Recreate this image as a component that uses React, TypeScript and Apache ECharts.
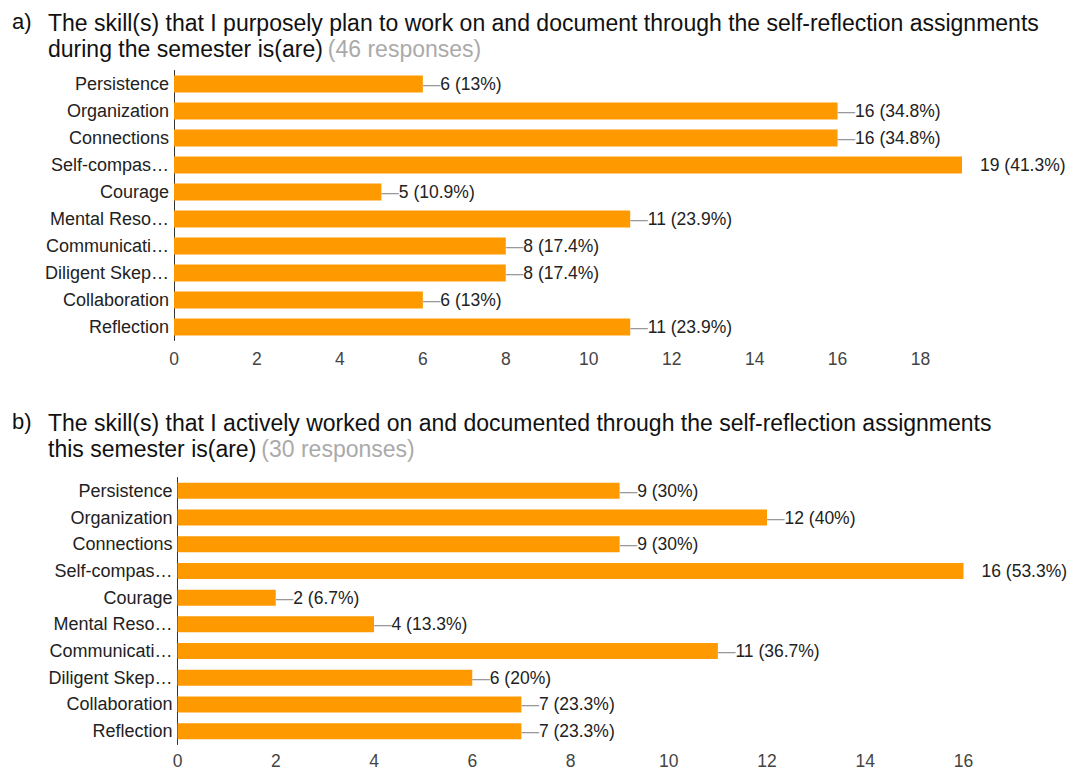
import React, { useEffect, useRef } from "react";
import * as echarts from "echarts";

const categories = [
  "Persistence",
  "Organization",
  "Connections",
  "Self-compas…",
  "Courage",
  "Mental Reso…",
  "Communicati…",
  "Diligent Skep…",
  "Collaboration",
  "Reflection",
];

const planValues = [6, 16, 16, 19, 5, 11, 8, 8, 6, 11];
const planResponses = 46;
const workedValues = [9, 12, 9, 16, 2, 4, 11, 6, 7, 7];
const workedResponses = 30;

const titleA1 = "The skill(s) that I purposely plan to work on and document through the self-reflection assignments";
const titleA2 = "during the semester is(are)";
const titleB1 = "The skill(s) that I actively worked on and documented through the self-reflection assignments";
const titleB2 = "this semester is(are)";

const FONT = 'Arial, "Liberation Sans", sans-serif';
const ORANGE = "#FF9900";
const FS = 17.5;
const CFS = 18;

function pct(v: number, total: number): string {
  const p = (v / total) * 100;
  let s = p.toFixed(1);
  if (s.endsWith(".0")) s = s.slice(0, -2);
  return s;
}

function buildSeries(values: number[], total: number, idx: number, barWidth: number) {
  const max = Math.max(...values);
  return {
    type: "bar",
    xAxisIndex: idx,
    yAxisIndex: idx,
    barWidth: barWidth,
    itemStyle: { color: ORANGE },
    data: values.map((v) => ({
      value: v,
      label:
        v === max
          ? { distance: 18, formatter: "{t|" + v + " (" + pct(v, total) + "%)}" }
          : { distance: 0 },
    })),
    label: {
      show: true,
      position: "right",
      formatter: (p: any) => "{d|—}{t|" + p.value + " (" + pct(p.value, total) + "%)}",
      rich: {
        d: { color: "#999", fontSize: FS, fontFamily: FONT },
        t: { color: "#222", fontSize: FS, fontFamily: FONT },
      },
    },
  };
}

function xAxisFor(values: number[], idx: number, showMax: boolean, margin: number) {
  const max = Math.max(...values);
  return {
    type: "value",
    gridIndex: idx,
    min: 0,
    max: max,
    interval: 2,
    splitLine: { show: false },
    axisLine: { show: false },
    axisTick: { show: false },
    axisLabel: {
      color: "#444",
      fontSize: FS,
      fontFamily: FONT,
      margin: margin,
      showMaxLabel: showMax,
    },
  };
}

function yAxisFor(idx: number) {
  return {
    type: "category",
    gridIndex: idx,
    inverse: true,
    data: categories,
    axisLine: { show: true, lineStyle: { color: "#333", width: 1 } },
    axisTick: { show: false },
    axisLabel: { color: "#222", fontSize: CFS, fontFamily: FONT, margin: 5 },
  };
}

const TFS = 23;

function titleRich() {
  return {
    b: { color: "#111", fontSize: TFS, fontFamily: FONT, fontWeight: "normal", lineHeight: 26 },
    g: { color: "#aaa", fontSize: TFS, fontFamily: FONT, fontWeight: "normal", lineHeight: 26 },
  };
}

const labelStyle = { color: "#111", fontSize: 22, fontFamily: FONT, fontWeight: "normal", lineHeight: 26 };

export default function App() {
  const ref = useRef<HTMLDivElement>(null);
  useEffect(() => {
    if (!ref.current) return;
    const chart = echarts.init(ref.current, undefined, { renderer: "svg" });
    chart.setOption({
      animation: false,
      backgroundColor: "#fff",
      title: [
        { text: "a)", left: 12, top: 8, padding: 0, textStyle: labelStyle },
        {
          text: "{b|" + titleA1 + "}\n{b|" + titleA2 + "} {g|(" + planResponses + " responses)}",
          left: 48,
          top: 10,
          padding: 0,
          textStyle: { fontWeight: "normal", rich: titleRich() },
        },
        { text: "b)", left: 12, top: 408, padding: 0, textStyle: labelStyle },
        {
          text: "{b|" + titleB1 + "}\n{b|" + titleB2 + "} {g|(" + workedResponses + " responses)}",
          left: 48,
          top: 410,
          padding: 0,
          textStyle: { fontWeight: "normal", rich: titleRich() },
        },
      ],
      grid: [
        { left: 174, width: 788, top: 70.5, height: 270 },
        { left: 177.5, width: 786, top: 477.5, height: 267 },
      ],
      xAxis: [xAxisFor(planValues, 0, false, 9), xAxisFor(workedValues, 1, true, 7)],
      yAxis: [yAxisFor(0), yAxisFor(1)],
      series: [
        buildSeries(planValues, planResponses, 0, 17),
        buildSeries(workedValues, workedResponses, 1, 16),
      ],
    });
    return () => chart.dispose();
  }, []);
  return (
    <div
      ref={ref}
      style={{ position: "fixed", left: 0, top: 0, width: 1071, height: 770 }}
    />
  );
}
